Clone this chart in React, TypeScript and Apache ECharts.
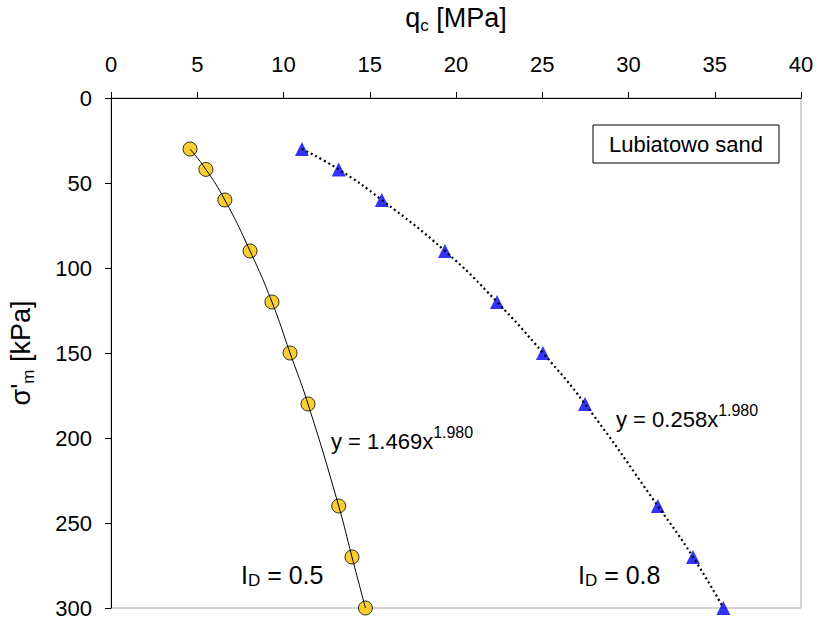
import React, { useEffect, useRef } from "react";
import * as echarts from "echarts";

// sigma'_m [kPa] levels
const sigmaLevels = [30, 42, 60, 90, 120, 150, 180, 240, 270, 300];
// q_c [MPa] for I_D = 0.5
const qcLoose = [4.58, 5.5, 6.6, 8.06, 9.33, 10.38, 11.42, 13.2, 13.97, 14.75];
// q_c [MPa] for I_D = 0.8
const qcDense = [11.07, 13.2, 15.7, 19.36, 22.38, 25.04, 27.48, 31.7, 33.74, 35.5];

const xTicks = [0, 5, 10, 15, 20, 25, 30, 35, 40];
const yTicks = [0, 50, 100, 150, 200, 250, 300];

const FONT = "Liberation Sans, Arial, sans-serif";

export default function App() {
  const ref = useRef<HTMLDivElement>(null);
  useEffect(() => {
    if (!ref.current) return;
    const chart = echarts.init(ref.current, null, { renderer: "svg" });
    const loose = qcLoose.map((x, i) => [x, sigmaLevels[i]]);
    const dense = qcDense.map((x, i) => [x, sigmaLevels[i]]);
    const eqRich = {
      a: { fontSize: 22, fontFamily: FONT, color: "#000", lineHeight: 28, verticalAlign: "bottom" },
      s: { fontSize: 16, fontFamily: FONT, color: "#000", lineHeight: 15, verticalAlign: "top" },
    };
    const idRich = {
      a: { fontSize: 25, fontFamily: FONT, color: "#000", lineHeight: 28, verticalAlign: "middle" },
      b: { fontSize: 17, fontFamily: FONT, color: "#000", lineHeight: 14, verticalAlign: "bottom" },
    };
    const titleRich = {
      a: { fontSize: 27, fontFamily: FONT, color: "#000", lineHeight: 32, verticalAlign: "middle" },
      b: { fontSize: 17, fontFamily: FONT, color: "#000", lineHeight: 15, verticalAlign: "bottom" },
    };
    chart.setOption({
      animation: false,
      backgroundColor: "#fff",
      textStyle: { fontFamily: FONT },
      grid: {
        left: 111,
        top: 98,
        right: 19,
        bottom: 15,
        show: true,
        borderColor: "#a6a6a6",
        borderWidth: 1,
        containLabel: false,
        outerBoundsMode: "none",
      },
      xAxis: {
        type: "value",
        position: "top",
        min: xTicks[0],
        max: xTicks[xTicks.length - 1],
        interval: 5,
        name: "{a|q}{b|c}{a| [MPa]}",
        nameLocation: "middle",
        nameGap: 64,
        nameTextStyle: { rich: titleRich },
        axisLine: { show: true, onZero: false, lineStyle: { color: "#000", width: 1 } },
        axisTick: { show: true, inside: false, length: 6, lineStyle: { color: "#000" } },
        axisLabel: { show: true, margin: 23, fontSize: 22, color: "#000", fontFamily: FONT },
        splitLine: { show: false },
      },
      yAxis: {
        type: "value",
        inverse: true,
        min: yTicks[0],
        max: yTicks[yTicks.length - 1],
        interval: 50,
        name: "{a|σ'}{b|m}{a| [kPa]}",
        nameLocation: "middle",
        nameRotate: 90,
        nameGap: 74,
        nameTextStyle: { rich: titleRich },
        axisLine: { show: true, onZero: false, lineStyle: { color: "#000", width: 1 } },
        axisTick: { show: true, inside: false, length: 6, lineStyle: { color: "#000" } },
        axisLabel: { show: true, margin: 19, fontSize: 22, color: "#000", fontFamily: FONT },
        splitLine: { show: false },
      },
      series: [
        {
          type: "scatter",
          data: loose,
          symbol: "circle",
          symbolSize: 14,
          itemStyle: { color: "#F8C200", borderColor: "#000", borderWidth: 1 },
          z: 2,
        },
        {
          type: "scatter",
          data: dense,
          symbol: "triangle",
          symbolSize: 14,
          itemStyle: { color: "#0000FF" },
          z: 2,
        },
        {
          type: "line",
          data: loose,
          smooth: true,
          showSymbol: false,
          lineStyle: { color: "#000", width: 1 },
          z: 3,
        },
        {
          type: "line",
          data: dense,
          smooth: true,
          showSymbol: false,
          lineStyle: { color: "#000", width: 2.2, type: [2, 3] },
          z: 3,
        },
      ],
      graphic: [
        {
          type: "rect",
          shape: { x: 593, y: 125, width: 186, height: 38 },
          style: { fill: "#fff", stroke: "#000", lineWidth: 1 },
          z: 10,
        },
        {
          type: "text",
          x: 686,
          y: 144,
          style: {
            text: "Lubiatowo sand",
            fontSize: 22,
            fontFamily: FONT,
            fill: "#000",
            align: "center",
            verticalAlign: "middle",
          },
          z: 11,
        },
        {
          type: "text",
          x: 331,
          y: 438,
          style: { text: "{a|y = 1.469x}{s|1.980}", fontFamily: FONT, verticalAlign: "middle", rich: eqRich },
          z: 11,
        },
        {
          type: "text",
          x: 616,
          y: 416,
          style: { text: "{a|y = 0.258x}{s|1.980}", fontFamily: FONT, verticalAlign: "middle", rich: eqRich },
          z: 11,
        },
        {
          type: "text",
          x: 241,
          y: 575,
          style: { text: "{a|I}{b|D}{a| = 0.5}", fontFamily: FONT, verticalAlign: "middle", rich: idRich },
          z: 11,
        },
        {
          type: "text",
          x: 578,
          y: 575,
          style: { text: "{a|I}{b|D}{a| = 0.8}", fontFamily: FONT, verticalAlign: "middle", rich: idRich },
          z: 11,
        },
      ],
    });
    return () => chart.dispose();
  }, []);
  return <div ref={ref} style={{ width: 820, height: 623, position: "fixed", left: 0, top: 0 }} />;
}
